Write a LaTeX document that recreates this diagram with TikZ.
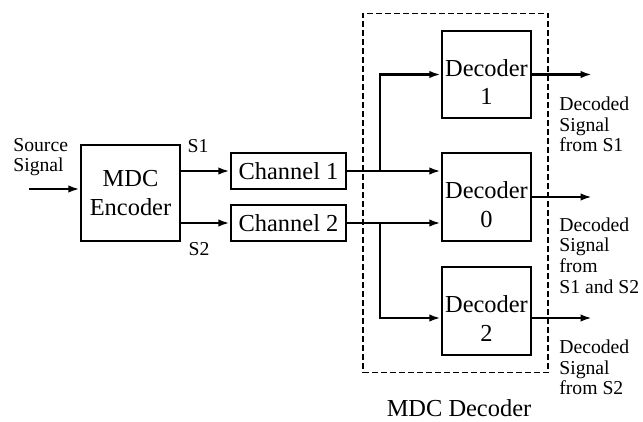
\documentclass[tikz,border=0pt]{standalone}
\usepackage{fontspec}
\setmainfont{Liberation Serif}
\usetikzlibrary{arrows.meta}

\tikzset{
  blk/.style={draw, line width=1.4pt, inner sep=0pt, align=center, font=\fontsize{13.9}{16.4}\selectfont},
  txt/.style={inner sep=0pt, align=center, font=\fontsize{13.9}{16.4}\selectfont},
  lbl/.style={inner sep=0pt, align=left, font=\fontsize{11.2}{11.7}\selectfont},
  wire/.style={line width=1.4pt},
  arr/.style={-{Latex[length=0.23cm,width=0.15cm]}, line width=1.4pt},
}

\begin{document}
\begin{tikzpicture}[x=0.02cm,y=-0.02cm]
  \useasboundingbox (0,0) rectangle (643,422);
  % decoder frame
  \node[draw, dash pattern=on 0.12cm off 0.06cm, line width=0.6pt, inner sep=0pt,
        minimum width=3.7cm, minimum height=7.2cm] (mdc) at (455.5,193) {};
  \node[txt] (mdclbl) at (459,408) {MDC Decoder};

  % blocks
  \node[blk, minimum width=1.98cm, minimum height=1.92cm] (enc) at (130.5,193) {MDC\\Encoder};
  \node[blk, minimum width=2.3cm, minimum height=0.72cm] (ch1) at (288.5,171) {Channel 1};
  \node[blk, minimum width=2.3cm, minimum height=0.72cm] (ch2) at (288.5,223) {Channel 2};
  \node[blk, minimum width=1.78cm, minimum height=1.74cm] (dec1) at (486.5,74.5) {};
  \node[blk, minimum width=1.78cm, minimum height=1.76cm] (dec0) at (486.5,197) {};
  \node[blk, minimum width=1.78cm, minimum height=1.76cm] (dec2) at (486.5,311) {};
  \node[txt] (t1) at ([yshift=-0.15cm]dec1) {Decoder\\1};
  \node[txt] (t0) at ([yshift=-0.15cm]dec0) {Decoder\\0};
  \node[txt] (t2) at ([yshift=-0.15cm]dec2) {Decoder\\2};

  % labels
  \node[lbl, anchor=west] (src) at (13,157) {Source\\Signal};
  \node[lbl] (s1) at (198,146) {S1};
  \node[lbl] (s2) at (199,249) {S2};
  \node[lbl, anchor=west] (out1) at (559,124.5) {Decoded\\Signal\\from S1};
  \node[lbl, anchor=west] (out0) at (559,255.5) {Decoded\\Signal\\from\\S1 and S2};
  \node[lbl, anchor=west] (out2) at (559,367.5) {Decoded\\Signal\\from S2};

  % connectors
  \coordinate (in) at (29,189);
  \coordinate (j1) at (380,171);
  \coordinate (j2) at (380,223);
  \coordinate (o1) at (592,74.5);
  \coordinate (o0) at (592,197);
  \coordinate (o2) at (592,318);

  \draw[arr] (in) -- (in -| enc.west);
  \draw[arr] (enc.east |- ch1) -- (ch1.west);
  \draw[arr] (enc.east |- ch2) -- (ch2.west);
  \draw[wire] (ch1.east) -- (j1);
  \draw[wire] (ch2.east) -- (j2);
  \draw[arr] (j1) |- (dec1.west);
  \draw[arr] (j1) -- (j1 -| dec0.west);
  \draw[arr] (j2) -- (j2 -| dec0.west);
  \draw[arr] (j2) |- (o2 -| dec2.west);
  \draw[arr] (dec1.east) -- (o1);
  \draw[arr] (dec0.east) -- (o0);
  \draw[arr] (o2 -| dec2.east) -- (o2);
\end{tikzpicture}
\end{document}
